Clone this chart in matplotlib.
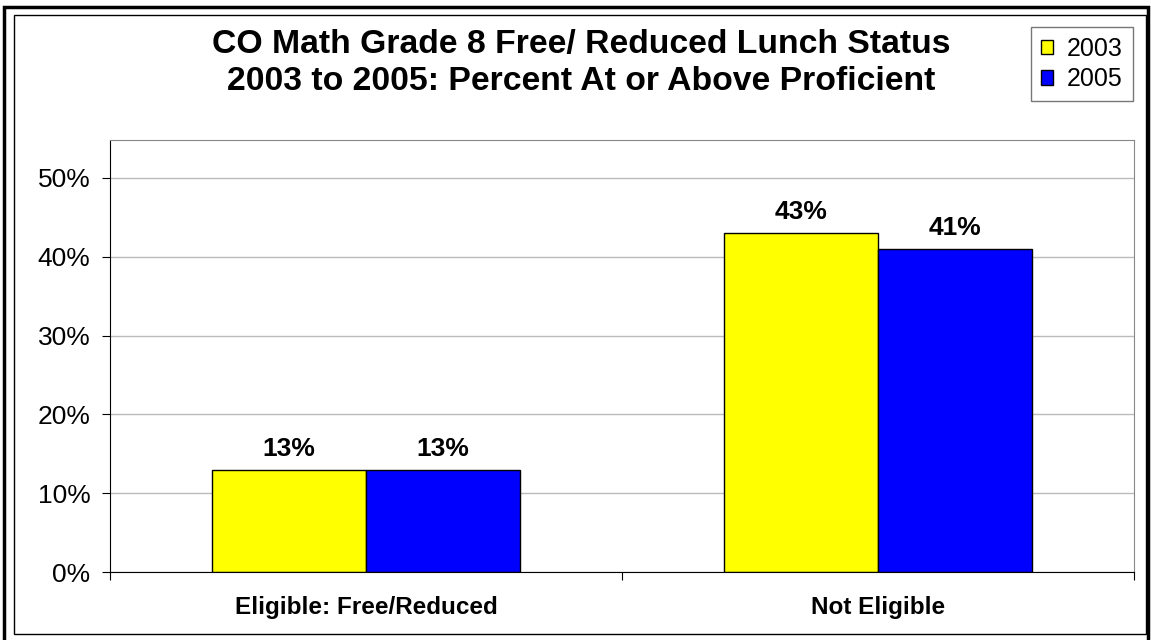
import matplotlib.pyplot as plt
from matplotlib.patches import Rectangle
from matplotlib.ticker import FuncFormatter

plt.rcParams['font.family'] = ['Liberation Sans', 'DejaVu Sans']

categorias = ['Eligible: Free/Reduced', 'Not Eligible']
anios = ['2003', '2005']
valores_2003 = [13, 43]
valores_2005 = [13, 41]
colores = ['#FFFF00', '#0000FF']
titulo = ['CO Math Grade 8 Free/ Reduced Lunch Status',
          '2003 to 2005: Percent At or Above Proficient']

W, H = 1151, 640
fig = plt.figure(figsize=(W / 100, H / 100), dpi=100)

# marcos exterior e interior del gráfico
fig.patches.append(Rectangle((4 / W, -0.01), 1144 / W, 1 - 7 / H + 0.01,
                             transform=fig.transFigure, fill=False,
                             edgecolor='black', linewidth=2.5))
fig.patches.append(Rectangle((14 / W, 6 / H), 1132 / W, 1 - 21 / H,
                             transform=fig.transFigure, fill=False,
                             edgecolor='black', linewidth=1))

ax = fig.add_axes([110 / W, 68 / H, 1024 / W, 432 / H])

x = list(range(len(categorias)))
ancho = 0.3
barras1 = ax.bar([i - ancho / 2 for i in x], [v / 100 for v in valores_2003], ancho,
                 color=colores[0], edgecolor='black', linewidth=1, label=anios[0])
barras2 = ax.bar([i + ancho / 2 for i in x], [v / 100 for v in valores_2005], ancho,
                 color=colores[1], edgecolor='black', linewidth=1, label=anios[1])

for barras, vals in [(barras1, valores_2003), (barras2, valores_2005)]:
    for b, v in zip(barras, vals):
        ax.annotate(f'{v}%', (b.get_x() + b.get_width() / 2, b.get_height()),
                    xytext=(0, 15), textcoords='offset points',
                    ha='center', va='center', fontsize=19, fontweight='bold')

ax.set_xlim(-0.5, len(categorias) - 0.5)
ax.set_ylim(0, 0.548)
ax.set_yticks([0, 0.1, 0.2, 0.3, 0.4, 0.5])
ax.yaxis.set_major_formatter(FuncFormatter(lambda v, p: f'{v * 100:.0f}%'))
ax.tick_params(axis='y', labelsize=19, length=6, direction='out', color='black', pad=8)

ax.set_xticks([-0.5, 0.5, 1.5])
ax.set_xticklabels([])
ax.set_xticks(x, minor=True)
ax.set_xticklabels(categorias, minor=True, fontsize=17.5, fontweight='bold')
ax.tick_params(axis='x', which='major', length=6, direction='out', color='black')
ax.tick_params(axis='x', which='minor', length=0, pad=17)

ax.grid(axis='y', color='#BBBBBB', linewidth=1)
ax.set_axisbelow(True)
for lado in ['top', 'right']:
    ax.spines[lado].set_color('#888888')
for lado in ['left', 'bottom']:
    ax.spines[lado].set_color('black')

for linea, y in zip(titulo, [45, 81]):
    fig.text(581 / W, 1 - y / H, linea, ha='center', va='center',
             fontsize=24.3, fontweight='bold')

leg = fig.legend(loc='upper right', bbox_to_anchor=(1133 / W, 1 - 27 / H),
                 fontsize=18, frameon=True, fancybox=False, handlelength=0.5,
                 handleheight=0.5, handletextpad=0.55, borderpad=0.4,
                 labelspacing=0.25, borderaxespad=0)
leg.get_frame().set_edgecolor('#555555')
leg.get_frame().set_linewidth(1)

fig.savefig('out.png', dpi=100)
